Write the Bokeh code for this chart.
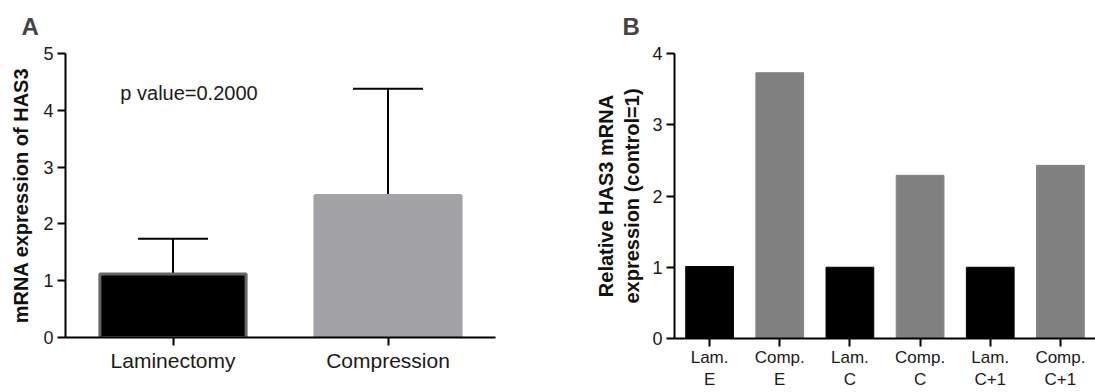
from bokeh.plotting import figure
from bokeh.models import FactorRange, Range1d, ColumnDataSource, Whisker, TeeHead, Label, Title
from bokeh.layouts import row
from bokeh.embed import file_html
from bokeh.resources import INLINE

FONT = "Liberation Sans"

# ---- Panel A data ----
groups_a = ["Laminectomy", "Compression"]
means_a = [1.12, 2.50]
sd_a = [0.62, 1.88]
colors_a = ["#000000", "#a3a3a7"]
edges_a = ["#666666", "#a3a3a7"]
yticks_a = [0, 1, 2, 3, 4, 5]
p_text = "p value=0.2000"

# ---- Panel B data ----
groups_b = ["Lam.\nE", "Comp.\nE", "Lam.\nC", "Comp.\nC", "Lam.\nC+1", "Comp.\nC+1"]
values_b = [1.01, 3.73, 1.00, 2.29, 1.00, 2.43]
colors_b = ["#000000", "#808080", "#000000", "#808080", "#000000", "#808080"]
yticks_b = [0, 1, 2, 3, 4]


def style(p, ylabel, yticks, xsize):
    p.xgrid.visible = False
    p.ygrid.visible = False
    p.outline_line_color = None
    p.background_fill_color = "white"
    p.border_fill_color = "white"
    for ax in (p.xaxis[0], p.yaxis[0]):
        ax.axis_line_width = 2
        ax.axis_line_color = "black"
        ax.major_tick_line_width = 2
        ax.major_tick_line_color = "black"
        ax.major_tick_out = 8
        ax.major_tick_in = 0
        ax.minor_tick_line_color = None
        ax.major_label_text_font = FONT
        ax.major_label_text_color = "#1a1a1a"
    p.yaxis[0].ticker = yticks
    p.yaxis[0].major_label_text_font_size = "18px"
    p.yaxis[0].major_label_standoff = 4
    p.xaxis[0].major_label_text_font_size = xsize
    p.xaxis[0].major_label_standoff = 3
    p.yaxis[0].axis_label = ylabel
    p.yaxis[0].axis_label_text_font = FONT
    p.yaxis[0].axis_label_text_font_style = "bold"
    p.yaxis[0].axis_label_text_font_size = "20px"
    p.yaxis[0].axis_label_text_color = "#111111"


# ---------- Figure A ----------
pA = figure(x_range=FactorRange(*groups_a), y_range=Range1d(0, 5),
            frame_width=430, frame_height=284,
            min_border_left=65, min_border_right=45, min_border_top=52, min_border_bottom=56,
            output_backend="svg", toolbar_location=None)
style(pA, "mRNA expression of HAS3", yticks_a, "21px")
pA.yaxis[0].axis_label_standoff = 8

srcA = ColumnDataSource(dict(x=groups_a, top=means_a, fill=colors_a, edge=edges_a,
                             upper=[m + s for m, s in zip(means_a, sd_a)]))
pA.vbar(x="x", top="top", width=0.68, source=srcA, fill_color="fill", line_color="edge", line_width=3)
pA.add_layout(Whisker(base="x", lower="top", upper="upper", source=srcA,
                      upper_head=TeeHead(size=70, line_width=2, line_color="black"),
                      lower_head=None, line_width=2, line_color="black"))
pA.add_layout(Label(x=0.255, y=4.3, text=p_text, text_font=FONT, text_font_size="20px",
                    text_baseline="middle", text_color="#1a1a1a"))
tA = Title(text="A", text_font=FONT, text_font_size="24px", text_font_style="bold",
           align="left", offset=-44, vertical_align="top", standoff=24)
pA.add_layout(tA, "above")

# ---------- Figure B ----------
pB = figure(x_range=FactorRange(*groups_b), y_range=Range1d(0, 4),
            frame_width=421, frame_height=285,
            min_border_left=134, min_border_right=0, min_border_top=51, min_border_bottom=56,
            output_backend="svg", toolbar_location=None)
style(pB, "Relative HAS3 mRNA\nexpression (control=1)", yticks_b, "17px")
pB.xaxis[0].major_label_standoff = 1
pB.yaxis[0].axis_label_standoff = 6

srcB = ColumnDataSource(dict(x=groups_b, top=values_b, fill=colors_b))
pB.vbar(x="x", top="top", width=0.68, source=srcB, fill_color="fill", line_color="fill", line_width=1)
tB = Title(text="B", text_font=FONT, text_font_size="24px", text_font_style="bold",
           align="left", offset=-52, vertical_align="top", standoff=23)
pB.add_layout(tB, "above")

layout = row(pA, pB)
open("out.html", "w").write(file_html(layout, INLINE))
